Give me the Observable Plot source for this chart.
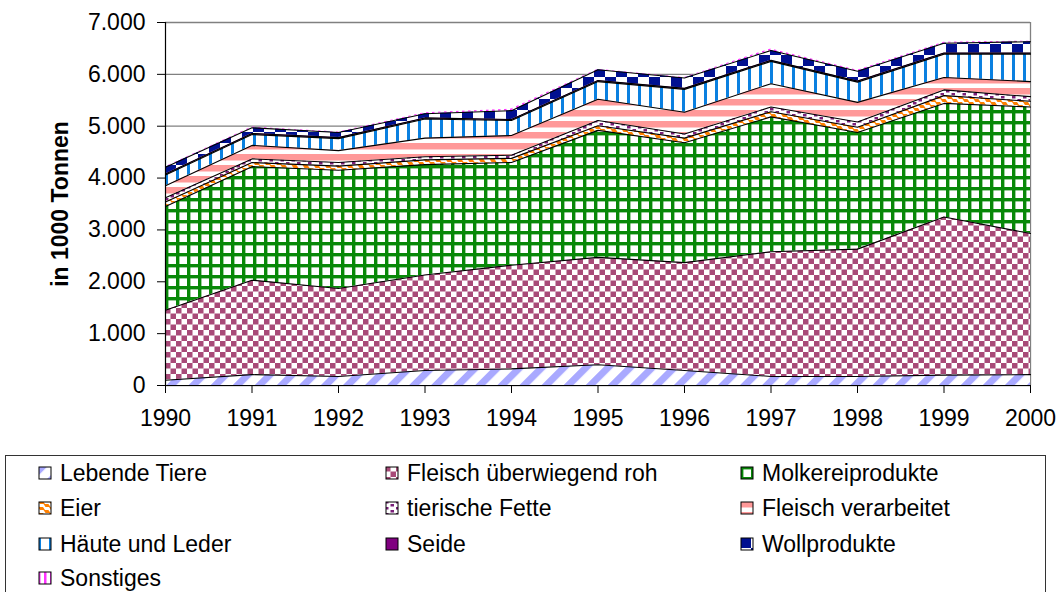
<!DOCTYPE html>
<html>
<head>
<meta charset="utf-8">
<script src="https://cdn.jsdelivr.net/npm/d3@7"></script>
<script src="https://cdn.jsdelivr.net/npm/@observablehq/plot@0.6"></script>
<style>
  body { margin: 0; background: #fff; font-family: "Liberation Sans", Arial, sans-serif; }
  #wrap { position: relative; width: 1062px; height: 592px; overflow: hidden; background: #fff; }
  #legend { position: absolute; left: 5px; top: 455px; width: 1041px; height: 170px; border: 1px solid #333; box-sizing: border-box; }
  .item { position: absolute; height: 24px; display: flex; align-items: center; font-size: 23px; white-space: nowrap; color: #000; }
  .item svg { margin-right: 8px; flex: none; }
</style>
</head>
<body>
<svg width="0" height="0" style="position:absolute">
  <defs>
    <pattern id="p-leb" patternUnits="userSpaceOnUse" width="15.6" height="15.6" patternTransform="rotate(45)">
      <rect width="15.6" height="15.6" fill="#fff"/>
      <rect x="0" y="0" width="7" height="15.6" fill="#a9a9ff"/>
    </pattern>
    <pattern id="p-roh" patternUnits="userSpaceOnUse" width="11" height="11">
      <rect width="11" height="11" fill="#fff"/>
      <rect x="0" y="0" width="5.5" height="5.5" fill="#a84a78"/>
      <rect x="5.5" y="5.5" width="5.5" height="5.5" fill="#a84a78"/>
    </pattern>
    <pattern id="p-molk" patternUnits="userSpaceOnUse" width="11" height="11">
      <rect width="11" height="11" fill="#fff"/>
      <rect x="0" y="0" width="3.4" height="11" fill="#088808"/>
      <rect x="0" y="0" width="11" height="3.4" fill="#088808"/>
    </pattern>
    <pattern id="p-eier" patternUnits="userSpaceOnUse" width="11" height="6">
      <rect width="11" height="6" fill="#fff"/>
      <polygon points="0,0 5,0 7,3 2,3" fill="#ff8000"/>
      <polygon points="5.5,3 10.5,3 12.5,6 7.5,6" fill="#ff8000"/>
      <polygon points="-5.5,3 -0.5,3 1.5,6 -3.5,6" fill="#ff8000"/>
    </pattern>
    <pattern id="p-fette" patternUnits="userSpaceOnUse" width="11" height="6">
      <rect width="11" height="6" fill="#fff"/>
      <rect x="0" y="0" width="3.5" height="2.5" fill="#7a1f7a"/>
      <rect x="5.5" y="3" width="3.5" height="2.5" fill="#7a1f7a"/>
    </pattern>
    <pattern id="p-flv" patternUnits="userSpaceOnUse" width="11" height="11">
      <rect width="11" height="11" fill="#fff"/>
      <rect x="0" y="0" width="11" height="6.5" fill="#ff9999"/>
    </pattern>
    <pattern id="p-haute" patternUnits="userSpaceOnUse" width="11" height="11">
      <rect width="11" height="11" fill="#fff"/>
      <rect x="0" y="0" width="3" height="11" fill="#0a80e0"/>
    </pattern>
    <pattern id="p-seide" patternUnits="userSpaceOnUse" width="6" height="6">
      <rect width="6" height="6" fill="#800080"/>
    </pattern>
    <pattern id="p-woll" patternUnits="userSpaceOnUse" width="22" height="22">
      <rect width="22" height="22" fill="#fff"/>
      <rect x="0" y="0" width="11" height="11" fill="#001090"/>
      <rect x="11" y="11" width="11" height="11" fill="#001090"/>
    </pattern>
    <pattern id="p-sonst" patternUnits="userSpaceOnUse" width="6" height="6">
      <rect x="0" y="0" width="2.5" height="6" fill="#ff33ff"/>
    </pattern>
  </defs>
</svg>
<div id="wrap">
  <div id="chart"></div>
  <div id="legend"></div>
</div>
<script>
// ---- data ----
const years = [1990, 1991, 1992, 1993, 1994, 1995, 1996, 1997, 1998, 1999, 2000];
const series = ["Lebende Tiere", "Fleisch überwiegend roh", "Molkereiprodukte", "Eier", "tierische Fette",
  "Fleisch verarbeitet", "Häute und Leder", "Seide", "Wollprodukte", "Sonstiges"];
const lebendeTiere      = [100, 210, 175, 290, 320, 400, 290, 175, 175, 200, 210];
const fleischRoh        = [1350, 1820, 1695, 1840, 2000, 2070, 2080, 2405, 2455, 3050, 2720];
const molkereiprodukte  = [2000, 2190, 2280, 2130, 1980, 2450, 2310, 2600, 2250, 2190, 2440];
const eier              = [90, 80, 80, 90, 80, 90, 90, 100, 100, 150, 110];
const tierischeFette    = [80, 70, 70, 60, 60, 100, 80, 90, 100, 110, 90];
const fleischVerarbeitet= [230, 260, 230, 360, 380, 410, 420, 450, 380, 240, 290];
const haeuteLeder       = [210, 210, 230, 370, 290, 340, 440, 430, 390, 450, 530];
const seide             = [20, 20, 20, 20, 20, 20, 20, 20, 20, 20, 20];
const wollprodukte      = [130, 110, 100, 80, 170, 210, 200, 190, 190, 190, 220];
const sonstiges         = [10, 15, 10, 20, 30, 10, 10, 30, 20, 20, 10];
const yTicks = [0, 1000, 2000, 3000, 4000, 5000, 6000, 7000];
const yLabel = "in 1000 Tonnen";

const values = [lebendeTiere, fleischRoh, molkereiprodukte, eier, tierischeFette,
  fleischVerarbeitet, haeuteLeder, seide, wollprodukte, sonstiges];
const patternIds = ["p-leb", "p-roh", "p-molk", "p-eier", "p-fette", "p-flv", "p-haute", "p-seide", "p-woll", "p-sonst"];

const data = series.flatMap((s, i) => years.map((yr, j) => ({year: yr, series: s, value: values[i][j]})));

const de = d3.formatLocale({decimal: ",", thousands: ".", grouping: [3], currency: ["", " €"]});
const fmt = de.format(",");

const font = "'Liberation Sans', Arial, sans-serif";

const chart = Plot.plot({
  width: 1062,
  height: 445,
  marginLeft: 165,
  marginRight: 32,
  marginTop: 22,
  marginBottom: 60,
  style: {fontFamily: font, fontSize: "23px", color: "#000", background: "transparent"},
  x: {domain: [years[0], years[years.length - 1]]},
  y: {domain: [0, 7000]},
  color: {domain: series, range: patternIds.map(id => `url(#${id})`)},
  marks: [
    Plot.ruleY(yTicks, {stroke: "#808080", strokeWidth: 1.3}),
    Plot.ruleX([years[years.length - 1]], {y1: 0, y2: 7000, stroke: "#808080", strokeWidth: 1.3}),
    Plot.areaY(data, {x: "year", y: "value", z: "series", fill: "series", order: series}),
    Plot.lineY(data, Plot.stackY2({
      x: "year", y: "value", z: "series", order: series,
      filter: d => d.series !== "Sonstiges",
      stroke: "#000", strokeWidth: 1.1
    })),
    Plot.ruleX([years[0]], {y1: 0, y2: 7000, stroke: "#000", strokeWidth: 1.2}),
    Plot.ruleY([0], {stroke: "#000", strokeWidth: 1.2}),
    Plot.axisY({ticks: yTicks, tickFormat: fmt, tickSize: 8, tickPadding: 12, label: null, fontSize: 23}),
    Plot.axisX({ticks: years, tickFormat: d => String(d), tickSize: 8, tickPadding: 16, label: null, fontSize: 23}),
    Plot.text([yLabel], {frameAnchor: "left", textAnchor: "middle", dx: -105, rotate: -90, fontWeight: "bold", fontSize: 23, fill: "#000"})
  ]
});
document.getElementById("chart").appendChild(chart);

// ---- legend ----
const legend = document.getElementById("legend");
const colX = [32, 379, 734];
const rowY = [5, 40, 76, 110];
series.forEach((s, i) => {
  const col = i % 3, row = Math.floor(i / 3);
  const div = document.createElement("div");
  div.className = "item";
  div.style.left = colX[col] + "px";
  div.style.top = rowY[row] + "px";
  div.innerHTML = `<svg width="14" height="14"><rect x="1" y="1" width="12" height="12" fill="url(#${patternIds[i]})" stroke="#000" stroke-width="1"/></svg><span>${s}</span>`;
  legend.appendChild(div);
});
</script>
</body>
</html>
